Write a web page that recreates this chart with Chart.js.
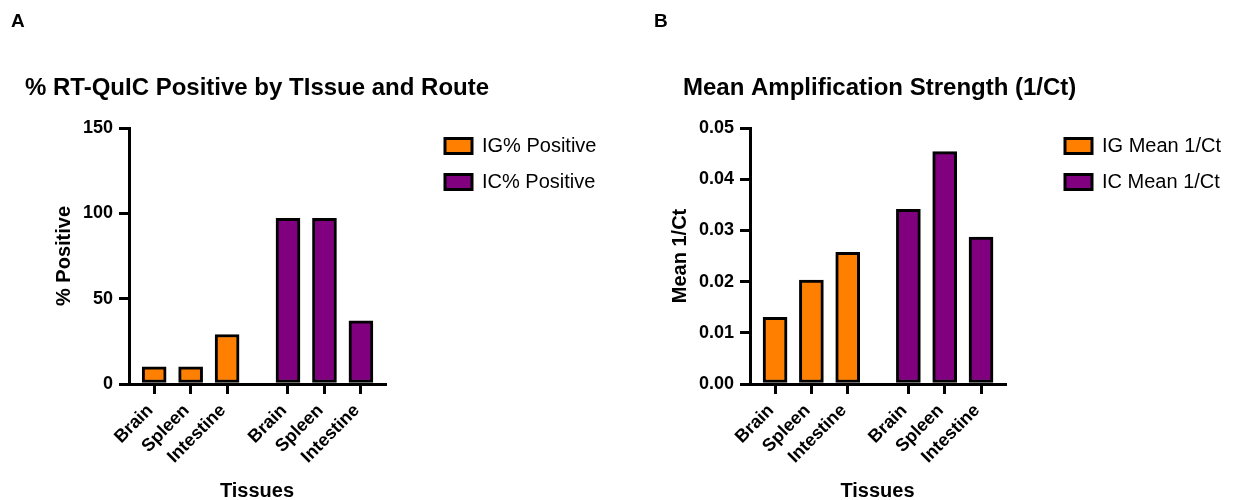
<!DOCTYPE html>
<html lang="en">
<head>
<meta charset="UTF-8">
<title>RT-QuIC by Tissue and Route</title>
<script src="https://cdn.jsdelivr.net/npm/chart.js"></script>
<style>
  body { margin: 0; background: #fff; font-family: "Liberation Sans", Arial, sans-serif; }
  .wrap { position: relative; width: 1240px; height: 500px; }
  .panel { position: absolute; top: 0; width: 620px; height: 500px; }
  .tag { position: absolute; top: 10px; font-size: 19px; font-weight: bold; color: #000; }
</style>
</head>
<body>
<div class="wrap">
  <div class="panel" style="left:0"><canvas id="pctChart" width="620" height="500"></canvas></div>
  <div class="panel" style="left:620px"><canvas id="ctChart" width="620" height="500"></canvas></div>
  <div class="tag" style="left:11px">A</div>
  <div class="tag" style="left:654px">B</div>
</div>
<script>
const tissues = ['Brain', 'Spleen', 'Intestine'];
const pctIG = [10, 10, 29];
const pctIC = [97, 97, 37];
const ctIG = [0.013, 0.0203, 0.0257];
const ctIC = [0.0341, 0.0454, 0.0287];
const pctTicks = [0, 50, 100, 150];
const ctTicks = [0, 0.01, 0.02, 0.03, 0.04, 0.05];

const ORANGE = '#ff8000';
const PURPLE = '#800080';
const GAP = 3.67; // x position where the IC group starts

Chart.defaults.font.family = '"Liberation Sans", Arial, sans-serif';
Chart.defaults.color = '#000';

// put the title and legend where Prism had them
const placeBlocks = {
    id: 'placeBlocks',
    afterLayout(chart, args, opts) {
        const t = chart.titleBlock, lg = chart.legend;
        const w = t.right - t.left;
        t.left = opts.titleX; t.right = t.left + w;
        const h = lg.bottom - lg.top;
        lg.left = chart.chartArea.right + opts.legendDx; lg.right = lg.left + opts.legendW;
        lg.top = chart.chartArea.top + opts.legendDy; lg.bottom = lg.top + h;
    }
};

function points(values, start) {
    return values.map((v, i) => ({ x: start + i, y: v }));
}

function makeChart(id, cfg) {
    const xPos = tissues.map((t, i) => i).concat(tissues.map((t, i) => GAP + i));

    new Chart(document.getElementById(id), {
        type: 'bar',
        data: {
            datasets: [
                { label: cfg.labels[0], data: points(cfg.ig, 0), backgroundColor: ORANGE },
                { label: cfg.labels[1], data: points(cfg.ic, GAP), backgroundColor: PURPLE }
            ]
        },
        options: {
            responsive: false,
            animation: false,
            layout: { padding: { left: 30, right: 85, top: 0, bottom: 0 } },
            datasets: {
                bar: { grouped: false, barThickness: 24, borderWidth: 3, borderColor: '#000', borderSkipped: false }
            },
            plugins: {
                title: {
                    display: true, text: cfg.title, align: 'start',
                    font: { size: 24, weight: 'bold' },
                    padding: { top: 74, bottom: 25.2 }
                },
                legend: {
                    position: 'right', align: 'start', maxWidth: 150,
                    labels: { boxWidth: 27, boxHeight: 15, padding: 16, font: { size: 20 } }
                },
                tooltip: { enabled: false },
                placeBlocks: { titleX: cfg.titleX, legendDx: 44, legendDy: -8, legendW: 190 }
            },
            scales: {
                x: {
                    type: 'linear',
                    offset: false,
                    min: -0.69,
                    max: GAP + 2.66,
                    afterBuildTicks: s => { s.ticks = xPos.map(v => ({ value: v })); },
                    afterFit: s => { s.height = 116; },
                    ticks: {
                        autoSkip: false, minRotation: 45, maxRotation: 45,
                        padding: 6, labelOffset: -4,
                        font: { size: 18, weight: 'bold' },
                        callback: (v, i) => tissues[i % tissues.length]
                    },
                    grid: { offset: false, drawOnChartArea: false, tickLength: 10, lineWidth: 3, color: '#000' },
                    border: { width: 3, color: '#000' },
                    title: {
                        display: true, text: 'Tissues',
                        font: { size: 20, weight: 'bold', lineHeight: 1 }, padding: { bottom: -1 }
                    }
                },
                y: {
                    min: 0,
                    max: cfg.yTicks[cfg.yTicks.length - 1],
                    afterBuildTicks: s => { s.ticks = cfg.yTicks.map(v => ({ value: v })); },
                    afterFit: s => { s.width = cfg.yWidth; },
                    ticks: { padding: 6, font: { size: 18, weight: 'bold' }, callback: cfg.fmt },
                    grid: { drawOnChartArea: false, tickLength: 10, lineWidth: 3, color: '#000' },
                    border: { width: 3, color: '#000' },
                    title: {
                        display: true, text: cfg.yTitle,
                        font: { size: 20, weight: 'bold' }, padding: { top: cfg.yTitlePad }
                    }
                }
            }
        },
        plugins: [placeBlocks]
    });
}

makeChart('pctChart', {
    title: '% RT-QuIC Positive by TIssue and Route',
    titleX: 25,
    labels: ['IG% Positive', 'IC% Positive'],
    ig: pctIG, ic: pctIC,
    yTicks: pctTicks, yTitle: '% Positive',
    yWidth: 99, yTitlePad: 22,
    fmt: v => v
});

makeChart('ctChart', {
    title: 'Mean Amplification Strength (1/Ct)',
    titleX: 63,
    labels: ['IG Mean 1/Ct', 'IC Mean 1/Ct'],
    ig: ctIG, ic: ctIC,
    yTicks: ctTicks, yTitle: 'Mean 1/Ct',
    yWidth: 100, yTitlePad: 18,
    fmt: v => v.toFixed(2)
});
</script>
</body>
</html>
